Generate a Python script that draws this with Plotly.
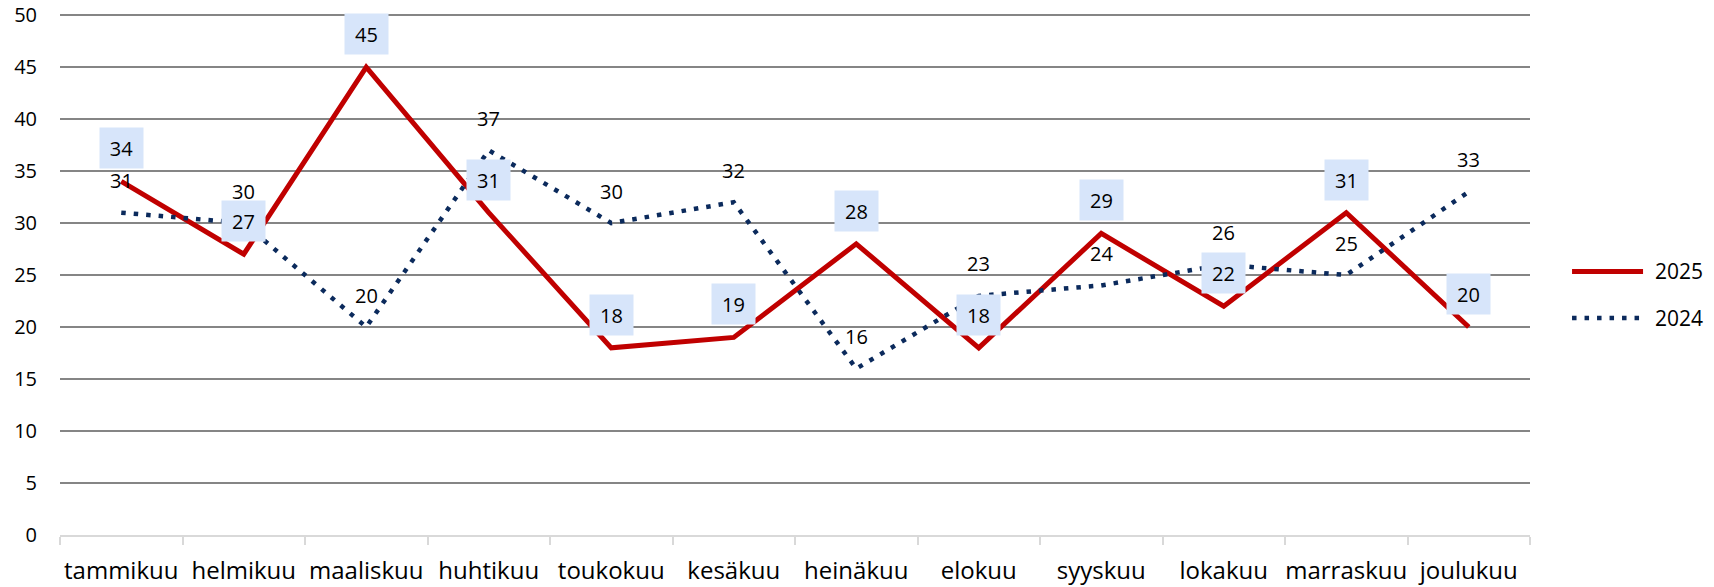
import plotly.graph_objects as go

months = ["tammikuu", "helmikuu", "maaliskuu", "huhtikuu", "toukokuu", "kesäkuu",
          "heinäkuu", "elokuu", "syyskuu", "lokakuu", "marraskuu", "joulukuu"]
values_2025 = [34, 27, 45, 31, 18, 19, 28, 18, 29, 22, 31, 20]
values_2024 = [31, 30, 20, 37, 30, 32, 16, 23, 24, 26, 25, 33]
y_ticks = [0, 5, 10, 15, 20, 25, 30, 35, 40, 45, 50]

FONT = "Open Sans"
RED = "#C00000"
NAVY = "#0B2A5C"
DOTS = "4.5px,8px"

fig = go.Figure()
fig.add_trace(go.Scatter(x=months, y=values_2025, name="2025", mode="lines",
                         showlegend=False, line=dict(color=RED, width=5)))
fig.add_trace(go.Scatter(x=months, y=values_2024, name="2024", mode="lines",
                         showlegend=False, line=dict(color=NAVY, width=4.5, dash=DOTS)))

annotations = []
for m, v in zip(months, values_2024):
    annotations.append(dict(x=m, y=v, text=str(v), showarrow=False, yshift=32,
                            font=dict(family=FONT, size=20, color="#000000")))
for m, v in zip(months, values_2025):
    annotations.append(dict(x=m, y=v, text=str(v), showarrow=False, yshift=33,
                            width=41, height=38, bgcolor="#D7E5FA",
                            font=dict(family=FONT, size=20, color="#000000")))

# custom legend (layout only)
legend_rows = [("2025", RED, "solid", 0.505, 5), ("2024", NAVY, DOTS, 0.4156, 4.5)]
shapes = []
for name, col, dash, yy, lw in legend_rows:
    shapes.append(dict(type="line", xref="paper", yref="paper", x0=1.0286, x1=1.0769,
                       y0=yy, y1=yy, line=dict(color=col, width=lw, dash=dash)))
    annotations.append(dict(xref="paper", yref="paper", x=1.0835, y=yy, text=name,
                            xanchor="left", yanchor="middle", showarrow=False,
                            font=dict(family=FONT, size=21, color="#000000")))

fig.update_layout(
    width=1714, height=587,
    margin=dict(l=60, r=184, t=13, b=52),
    paper_bgcolor="white", plot_bgcolor="white",
    font=dict(family=FONT, size=20, color="#000000"),
    annotations=annotations, shapes=shapes, showlegend=False,
    xaxis=dict(type="category", range=[-0.5, 11.5], showgrid=False, showline=True,
               linecolor="#D9D9D9", linewidth=2, ticks="outside", tickson="boundaries",
               ticklen=8, tickcolor="#D9D9D9", tickwidth=2, ticklabelstandoff=13,
               automargin=False, tickangle=0, ticklabeloverflow="allow",
               tickfont=dict(family=FONT, size=24)),
    yaxis=dict(range=[0, 50.2], tickvals=y_ticks, showgrid=True, gridcolor="#858585",
               gridwidth=2, zeroline=True, zerolinecolor="#D9D9D9", zerolinewidth=2,
               showline=False, ticks="", ticklabelstandoff=22, automargin=False,
               ticklabeloverflow="allow",
               tickfont=dict(family=FONT, size=20)),
)

fig.write_html("out.html", config={"displayModeBar": False},
               post_script="document.body.style.margin='0px';")
